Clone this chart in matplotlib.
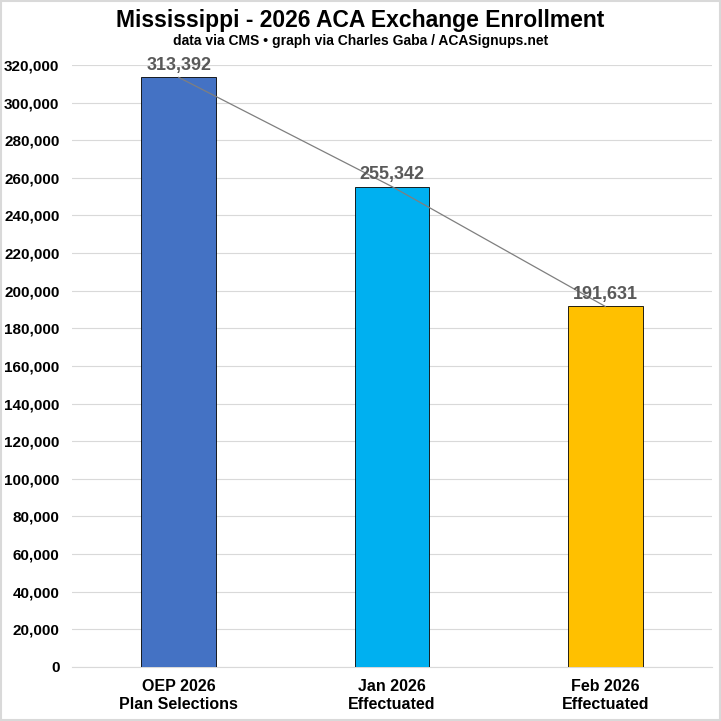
import matplotlib.pyplot as plt
from matplotlib.ticker import FuncFormatter

categories = ["OEP 2026\nPlan Selections", "Jan 2026\nEffectuated", "Feb 2026\nEffectuated"]
values = [313392, 255342, 191631]
colors = ["#4472C4", "#00B0F0", "#FFC000"]
yticks = list(range(0, 320001, 20000))

plt.rcParams['font.family'] = ['Liberation Sans', 'DejaVu Sans']
plt.rcParams['font.weight'] = 'bold'

fig = plt.figure(figsize=(7.21, 7.21), dpi=100)
ax = fig.add_axes([0.0999, 0.0749, 0.8876, 0.835])

x = list(range(len(categories)))
ax.bar(x, values, width=0.35, color=colors, edgecolor='black', linewidth=0.6, zorder=3)
ax.plot(x, values, color='#7f7f7f', linewidth=0.9, zorder=4)

for xi, v in zip(x, values):
    ax.text(xi, v + 2000, f"{v:,}", ha='center', va='bottom', fontsize=13,
            fontweight='bold', color='#595959', zorder=5)

ax.set_xlim(-0.5, 2.5)
ax.set_ylim(0, 320000)
ax.set_yticks(yticks)
ax.yaxis.set_major_formatter(FuncFormatter(lambda v, p: f"{int(v):,}"))
ax.set_xticks(x)
ax.set_xticklabels(categories, fontsize=11.5, fontweight='bold')
ax.tick_params(axis='y', labelsize=11, length=0, pad=9)
ax.tick_params(axis='x', length=0, pad=9)
for lbl in ax.get_yticklabels():
    lbl.set_fontweight('bold')

ax.grid(axis='y', color='#d9d9d9', linewidth=0.8, zorder=0)
for side in ['top', 'right', 'left']:
    ax.spines[side].set_visible(False)
ax.spines['bottom'].set_color('#d9d9d9')

fig.text(0.5, 0.971, "Mississippi - 2026 ACA Exchange Enrollment", ha='center', va='center',
         fontsize=16.5, fontweight='bold')
fig.text(0.5, 0.943, "data via CMS \u2022 graph via Charles Gaba / ACASignups.net", ha='center',
         va='center', fontsize=10, fontweight='bold')

fig.patches.append(plt.Rectangle((0.002, 0.002), 0.996, 0.996, transform=fig.transFigure,
                                 fill=False, edgecolor='#d9d9d9', linewidth=1.5))

fig.savefig("out.png", dpi=100)
